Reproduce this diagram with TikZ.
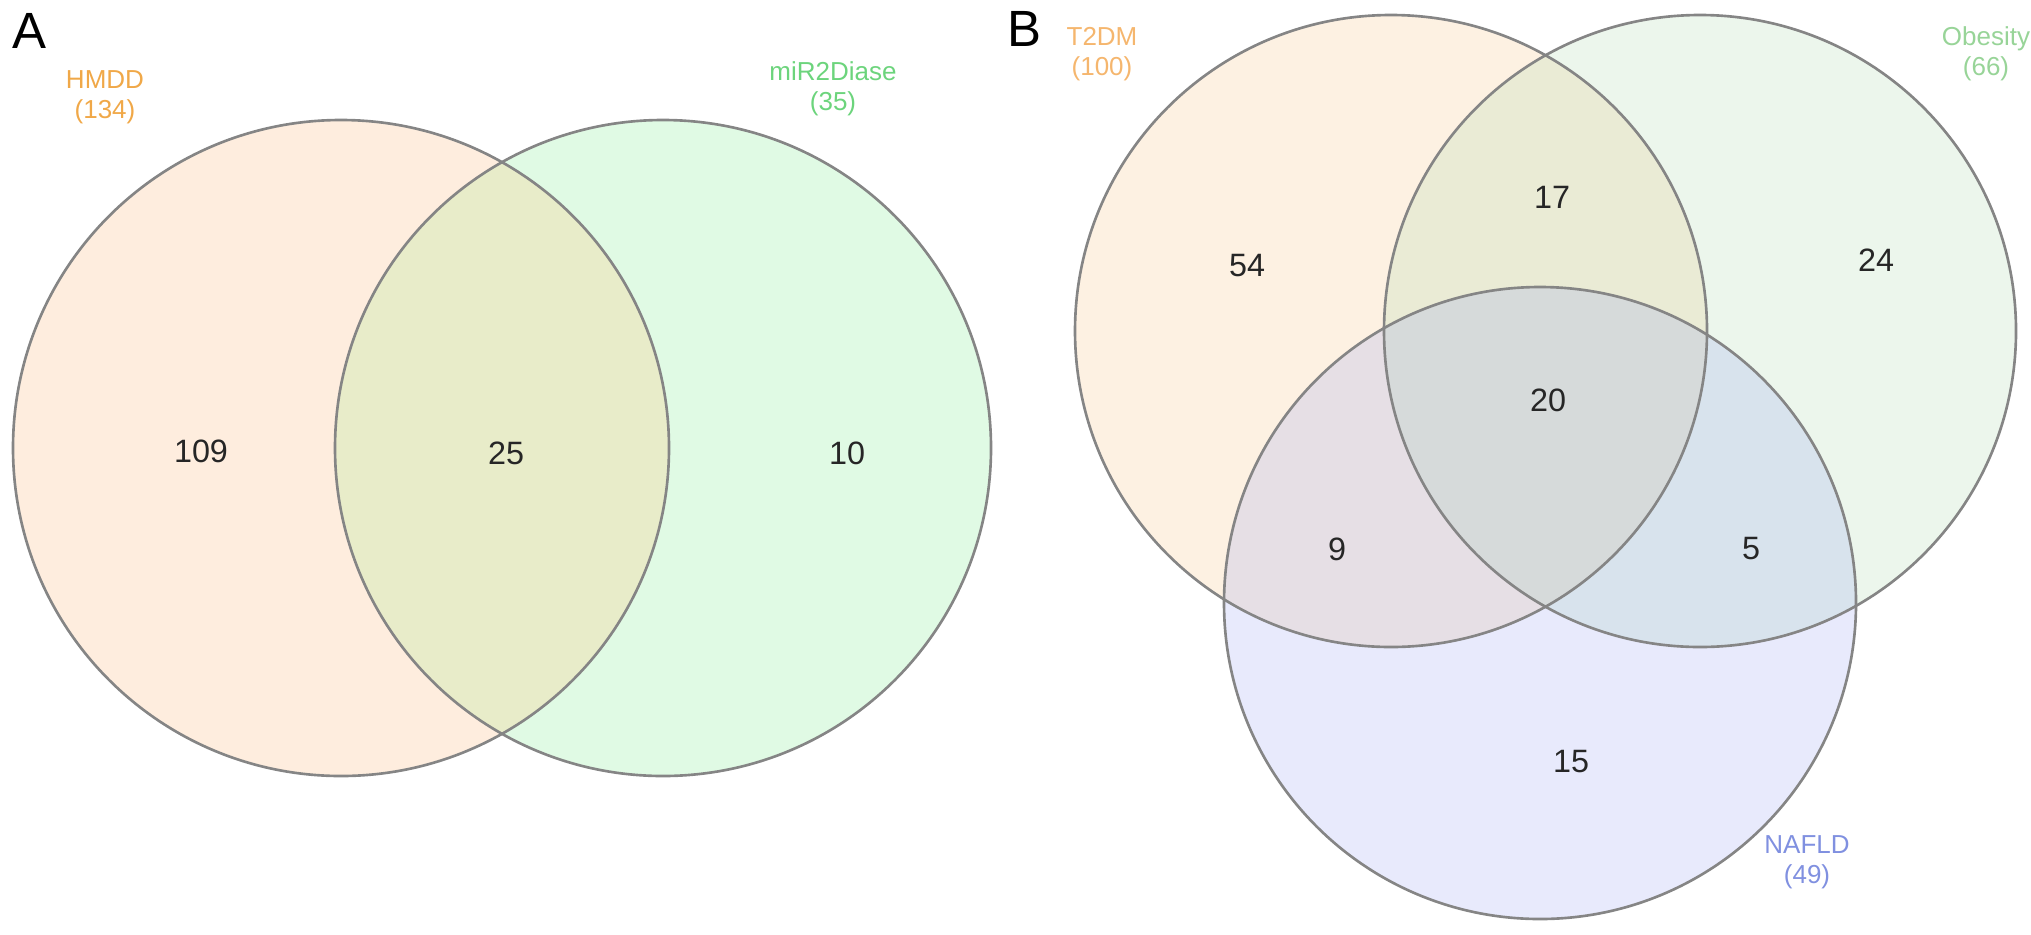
\documentclass[tikz,border=0pt]{standalone}
\usepackage{fontspec}
\setmainfont{Liberation Sans}
\definecolor{hmddcol}{HTML}{F8A55A}
\definecolor{mircol}{HTML}{66E67A}
\definecolor{bothcol}{HTML}{E8ECC9}
\definecolor{t2dmcol}{HTML}{F5B870}
\definecolor{obecol}{HTML}{A0D4A0}
\definecolor{nafcol}{HTML}{8A96F0}
\definecolor{hmddtxt}{HTML}{F0A848}
\definecolor{mirtxt}{HTML}{6CD47C}
\definecolor{t2dmtxt}{HTML}{F5B66E}
\definecolor{obetxt}{HTML}{98D498}
\definecolor{naftxt}{HTML}{8090E0}
\definecolor{rimgray}{HTML}{858585}
\usepackage{tikz}
\usetikzlibrary{positioning}

\tikzset{
  setfill/.style={fill=#1, fill opacity=0.2},
  setrim/.style={draw=rimgray, line width=0.75pt},
  setlabel/.style={font=\fontsize{7.4}{8.6}\selectfont, align=center, inner sep=0pt},
  count/.style={font=\fontsize{9.2}{11}\selectfont, text=black!85, inner sep=0pt},
  panel/.style={font=\fontsize{14.5}{16}\selectfont, inner sep=0pt}
}

\begin{document}
\begin{tikzpicture}[x=0.1mm,y=-0.1mm]
    \useasboundingbox (0,0) rectangle (2031,934);

    % Panel A: two sets
    \fill[setfill=hmddcol] (341,448) circle[radius=328];
    \fill[setfill=mircol]  (663,448) circle[radius=328];
    \begin{scope}
      \clip (341,448) circle[radius=328];
      \fill[bothcol] (663,448) circle[radius=328];
    \end{scope}
    \draw[setrim] (341,448) circle[radius=328];
    \draw[setrim] (663,448) circle[radius=328];

    \node[panel] (pa) at (29,31) {A};
    \node[setlabel,text=hmddtxt] (hmdd) at (105,97)  {HMDD\\(134)};
    \node[setlabel,text=mirtxt]  (mir)  at (833,89)  {miR2Diase\\(35)};

    \node[count] (a109) at (201,451) {109};
    \node[count] (a25)  at (506,453) {25};
    \node[count] (a10)  at (847,453) {10};

    % Panel B: three sets
    \fill[setfill=t2dmcol] (1391,331) circle[radius=316];
    \fill[setfill=obecol]  (1700,331) circle[radius=316];
    \fill[setfill=nafcol]  (1540,603) circle[radius=316];
    \draw[setrim] (1391,331) circle[radius=316];
    \draw[setrim] (1700,331) circle[radius=316];
    \draw[setrim] (1540,603) circle[radius=316];

    \node[panel] (pb) at (1024,29) {B};
    \node[setlabel,text=t2dmtxt] (t2dm) at (1102,54)  {T2DM\\(100)};
    \node[setlabel,text=obetxt]  (obe)  at (1986,54)  {Obesity\\(66)};
    \node[setlabel,text=naftxt]  (naf)  at (1807,862) {NAFLD\\(49)};

    \node[count] (b54) at (1247,266) {54};
    \node[count] (b17) at (1552,197) {17};
    \node[count] (b24) at (1876,260) {24};
    \node[count] (b20) at (1548,400) {20};
    \node[count] (b9)  at (1337,549) {9};
    \node[count] (b5)  at (1751,549) {5};
    \node[count] (b15) at (1571,762) {15};
\end{tikzpicture}
\end{document}
